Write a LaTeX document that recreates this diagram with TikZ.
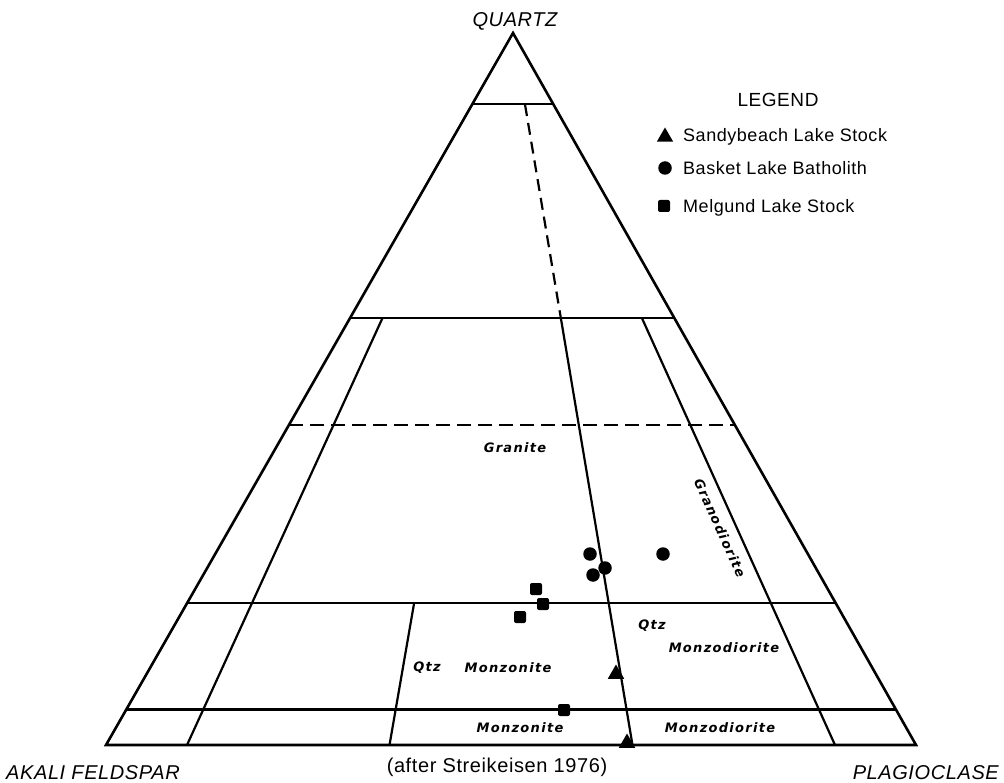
\documentclass[tikz,border=0pt]{standalone}
\usepackage{fontspec}
\setmainfont{Liberation Sans}
\newfontfamily\fieldfont[LetterSpace=10]{DejaVu Sans}
\newfontfamily\labfont[LetterSpace=3]{Liberation Sans}
\usetikzlibrary{calc,shapes.geometric}
\begin{document}
\begin{tikzpicture}[x=1pt,y=-1pt,
  edge/.style={line width=2.6pt, line join=miter},
  grid/.style={line width=2.2pt},
  dashgrid/.style={line width=2.2pt, dash pattern=on 14pt off 7pt},
  tri/.style={regular polygon, regular polygon sides=3, fill=black, inner sep=0pt, minimum size=19pt},
  dot/.style={circle, fill=black, inner sep=0pt, minimum size=13.5pt},
  sq/.style={rectangle, rounded corners=2pt, fill=black, inner sep=0pt, minimum size=12pt},
  field/.style={font=\fieldfont\bfseries\itshape\fontsize{13}{15}\selectfont, inner sep=0pt},
  corner/.style={font=\labfont\itshape\fontsize{20}{24}\selectfont, inner sep=0pt},
  leg/.style={font=\labfont\fontsize{18}{22}\selectfont, inner sep=0pt, anchor=base west}
]
\useasboundingbox (0,0) rectangle (1004,783);
% corners
\coordinate (A) at (106,745);
\coordinate (P) at (916,745);
\coordinate (Q) at (513,33);
% base points of the ratio lines
\coordinate (b10) at ($(A)!0.10!(P)$);
\coordinate (b35) at ($(A)!0.35!(P)$);
\coordinate (b65) at ($(A)!0.65!(P)$);
\coordinate (b90) at ($(A)!0.90!(P)$);
% left / right edge points
\foreach \q/\n in {0.9/90,0.6/60,0.45/45,0.2/20,0.05/05}{
  \coordinate (L\n) at ($(A)!\q!(Q)$);
  \coordinate (R\n) at ($(P)!\q!(Q)$);
}
% ratio line points
\coordinate (r10t) at ($(b10)!0.6!(Q)$);
\coordinate (r90t) at ($(b90)!0.6!(Q)$);
\coordinate (r35t) at ($(b35)!0.2!(Q)$);
\coordinate (r65a) at ($(b65)!0.9!(Q)$);
\coordinate (r65b) at ($(b65)!0.6!(Q)$);

% outline
\draw[edge] (A) -- (P) -- (Q) -- cycle;
% horizontal lines
\draw[grid] (L90) -- (R90);
\draw[grid] (L60) -- (R60);
\draw[dashgrid] (L45) -- (R45);
\draw[grid] (L20) -- (R20);
\draw[grid] (L05) -- (R05);
% ratio lines
\draw[grid] (r10t) -- (b10);
\draw[grid] (r90t) -- (b90);
\draw[grid] (r35t) -- (b35);
\draw[dashgrid, dash pattern=on 12pt off 7pt] (r65a) -- (r65b);
\draw[grid] (r65b) -- (b65);

% corner labels
\node[corner, anchor=base] (lq) at (515,27) {QUARTZ};
\node[corner, anchor=base west] (la) at (6,779) {AKALI FELDSPAR};
\node[corner, anchor=base east] (lp) at (999,779) {PLAGIOCLASE};
\node[font=\labfont\fontsize{20}{24}\selectfont, inner sep=0pt, anchor=base] (src) at (497,772) {(after Streikeisen 1976)};

% field labels
\node[field] (granite) at (515,448) {Granite};
\node[field, rotate=-65.8] (grano) at (720,528) {Granodiorite};
\node[field] (qtz1) at (652,626) {Qtz};
\node[field] (qmd) at (724,648) {Monzodiorite};
\node[field] (qtz2) at (427,668) {Qtz};
\node[field] (qmz) at (508,668) {Monzonite};
\node[field] (mz) at (520,728) {Monzonite};
\node[field] (md) at (720,728) {Monzodiorite};

% data points
\node[dot] (c1) at (590,554) {};
\node[dot] (c2) at (663,554) {};
\node[dot] (c3) at (605,568) {};
\node[dot] (c4) at (593,575) {};
\node[sq] (s1) at (536,589) {};
\node[sq] (s2) at (543,604) {};
\node[sq] (s3) at (520,617) {};
\node[sq] (s4) at (564,710) {};
\node[tri] (t1) at (616,674) {};
\node[tri] (t2) at (627,743) {};

% legend
\node[font=\labfont\fontsize{19}{22}\selectfont, inner sep=0pt, anchor=base] (legtitle) at (778,107) {LEGEND};
\node[tri] (lt) at (665,137) {};
\node[dot] (lc) at (665,168) {};
\node[sq] (ls) at (664,206) {};
\node[leg] (ltt) at (683,142) {Sandybeach Lake Stock};
\node[leg] (lct) at (683,175) {Basket Lake Batholith};
\node[leg] (lst) at (683,213) {Melgund Lake Stock};
\end{tikzpicture}
\end{document}
